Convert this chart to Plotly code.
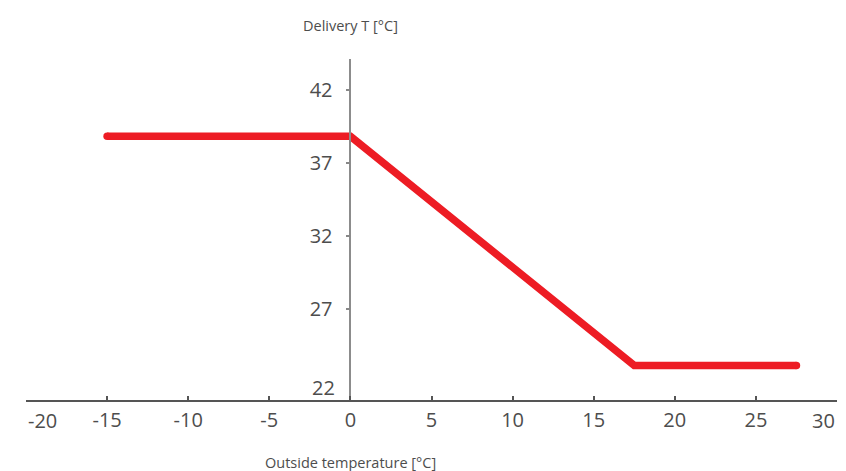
import plotly.graph_objects as go

# Heating curve: delivery temperature vs outside temperature
outside_t = [-15, 0, 17.5, 27.5]
delivery_t = [38.8, 38.8, 23.1, 23.1]

x_ticks = [-20, -15, -10, -5, 0, 5, 10, 15, 20, 25, 30]
x_tick_text = ["-20", "-15", "-10", "-5", "0", "5", "10", "15", "20", "25", "30"]
y_ticks = [27, 32, 37, 42]
y_tick_text = ["27", "32", "37", "42"]
y_low_label = (22, "22")

RED = "#ED1C24"
TXT = "#4d4d4d"
FONT = "Open Sans"

fig = go.Figure()
fig.add_trace(go.Scatter(
    x=outside_t, y=delivery_t, mode="lines",
    line=dict(color=RED, width=7.5),
    hoverinfo="skip", showlegend=False,
))
# rounded line ends
fig.add_trace(go.Scatter(
    x=[outside_t[0], outside_t[-1]], y=[delivery_t[0], delivery_t[-1]],
    mode="markers", marker=dict(color=RED, size=7.5, line=dict(width=0)),
    hoverinfo="skip", showlegend=False,
))

# end labels of the x axis sit inside the plot edges
inner_text = [t if v not in (x_ticks[0], x_ticks[-1]) else "" for v, t in zip(x_ticks, x_tick_text)]

annotations = [
    dict(x=x_ticks[0], y=0, xref="x", yref="paper", text=x_tick_text[0],
         xanchor="left", yanchor="top", yshift=-5, showarrow=False,
         font=dict(family=FONT, size=20, color=TXT)),
    dict(x=x_ticks[-1], y=0, xref="x", yref="paper", text=x_tick_text[-1],
         xanchor="right", yanchor="top", yshift=-5, showarrow=False,
         font=dict(family=FONT, size=20, color=TXT)),
    dict(x=0, y=y_low_label[0], xref="x", yref="y", text=y_low_label[1],
         xanchor="right", yanchor="middle", xshift=-13, yshift=-6, showarrow=False,
         font=dict(family=FONT, size=20, color=TXT)),
    dict(x=0, y=1, xref="x", yref="paper", text="Delivery T [°C]",
         xanchor="center", yanchor="middle", yshift=34, showarrow=False,
         font=dict(family=FONT, size=14.5, color=TXT)),
    dict(x=0, y=0, xref="x", yref="paper", text="Outside temperature [°C]",
         xanchor="center", yanchor="middle", yshift=-62, showarrow=False,
         font=dict(family=FONT, size=14.5, color=TXT)),
]

fig.update_layout(
    width=846, height=471,
    margin=dict(l=26, r=9, t=59, b=71),
    paper_bgcolor="white", plot_bgcolor="white",
    font=dict(family=FONT, size=20, color=TXT),
    annotations=annotations,
    xaxis=dict(
        range=[-20, 30], tickvals=x_ticks, ticktext=inner_text,
        ticks="inside", ticklen=4, tickwidth=1.5, tickcolor="#555555",
        showline=True, linecolor="#555555", linewidth=1.5,
        showgrid=False, zeroline=False, ticklabelstandoff=1,
        tickfont=dict(family=FONT, size=20, color=TXT),
    ),
    yaxis=dict(
        range=[20.73, 44.1], tickvals=y_ticks, ticktext=y_tick_text,
        anchor="free", position=0.4,
        ticks="outside", ticklen=4, tickwidth=1.5, tickcolor="#888888",
        showline=True, linecolor="#8c8c8c", linewidth=1.8,
        showgrid=False, zeroline=False, ticklabelstandoff=9,
        tickfont=dict(family=FONT, size=20, color=TXT),
    ),
)

fig.write_html("out.html")
